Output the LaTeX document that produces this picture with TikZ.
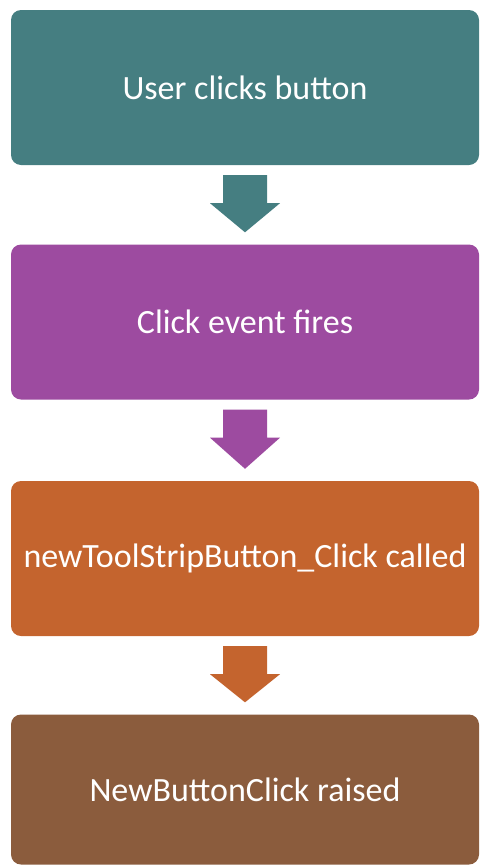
\documentclass[tikz,border=0pt]{standalone}
\usepackage{fontspec}
\setmainfont{Carlito}
\usetikzlibrary{calc}
\definecolor{cteal}{RGB}{69,126,129}
\definecolor{cpurple}{RGB}{157,75,160}
\definecolor{corange}{RGB}{196,100,46}
\definecolor{cbrown}{RGB}{139,92,61}
\newcommand{\flowarrow}[3]{%
  \fill[#1] ($(#2.south)+(-22,10)$) -- ($(#2.south)+(22,10)$) -- ($(#2.south)+(22,38)$) -- ($(#2.south)+(35,38)$) -- ($(#3.north)+(0,-12)$) -- ($(#2.south)+(-35,38)$) -- ($(#2.south)+(-22,38)$) -- cycle;}
\begin{document}
\begin{tikzpicture}[x=1pt,y=-1pt,
  stagebox/.style={rounded corners=10pt, minimum width=468pt, minimum height=155pt, inner sep=0pt, text=white, font=\fontsize{34}{40}\selectfont}]
\useasboundingbox (0,0) rectangle (480,865);
\node[stagebox, fill=cteal] (b1) at (245,87.5) {User clicks button};
\node[stagebox, fill=cpurple] (b2) at (245,322) {Click event fires};
\node[stagebox, fill=corange] (b3) at (245,558.5) {newToolStripButton\_Click called};
\node[stagebox, fill=cbrown, minimum height=150pt] (b4) at (245,789.5) {NewButtonClick raised};
\flowarrow{cteal}{b1}{b2}
\flowarrow{cpurple}{b2}{b3}
\flowarrow{corange}{b3}{b4}
\end{tikzpicture}
\end{document}
